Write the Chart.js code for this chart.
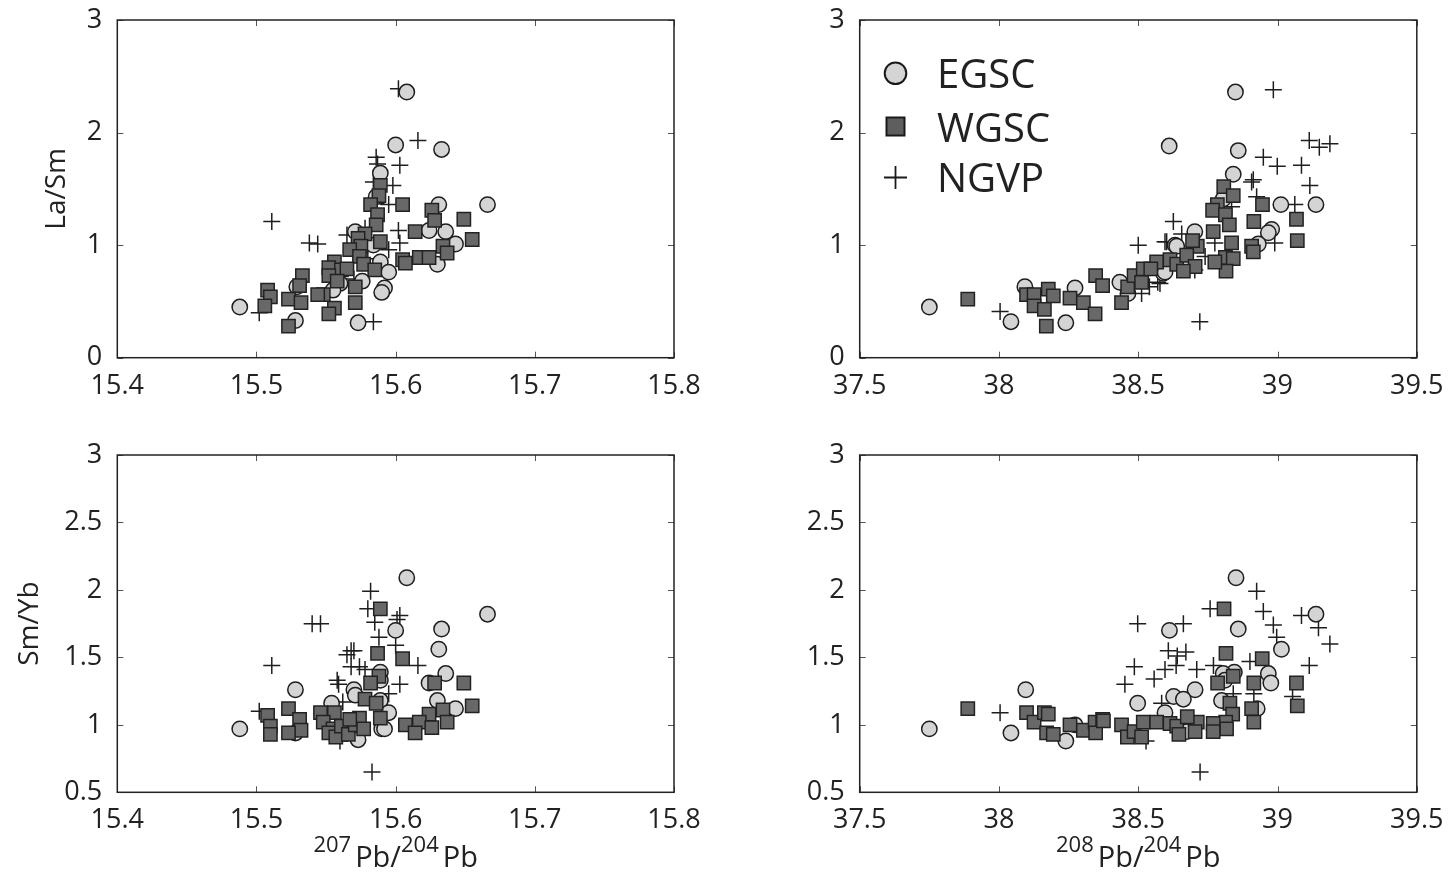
<!DOCTYPE html>
<html>
<head>
<meta charset="utf-8">
<script src="https://cdn.jsdelivr.net/npm/chart.js@4/dist/chart.umd.min.js"></script>
<style>
  body { margin: 0; background: #fff; }
  .panel { position: absolute; }
</style>
</head>
<body>
<div class="panel" style="left:0;top:0;width:700px;height:437px"><canvas id="tl"></canvas></div>
<div class="panel" style="left:725px;top:0;width:724px;height:437px"><canvas id="tr"></canvas></div>
<div class="panel" style="left:0;top:437px;width:700px;height:438px"><canvas id="bl"></canvas></div>
<div class="panel" style="left:725px;top:437px;width:724px;height:438px"><canvas id="br"></canvas></div>
<script>
// [207Pb/204Pb, La/Sm]
const egsc207LaSm = [[15.608,2.36],[15.600,1.89],[15.633,1.85],[15.589,1.64],[15.586,1.43],[15.631,1.36],[15.666,1.36],[15.624,1.13],[15.636,1.12],[15.643,1.01],[15.630,0.83],[15.571,1.12],[15.584,1.00],[15.589,0.85],[15.595,0.76],[15.592,0.62],[15.590,0.58],[15.576,0.68],[15.560,0.66],[15.555,0.60],[15.529,0.63],[15.528,0.33],[15.573,0.31],[15.488,0.45]];
const wgsc207LaSm = [[15.589,1.53],[15.588,1.44],[15.582,1.36],[15.605,1.36],[15.587,1.27],[15.586,1.18],[15.578,1.10],[15.573,1.06],[15.575,0.99],[15.589,1.03],[15.567,0.96],[15.574,0.90],[15.577,0.83],[15.585,0.78],[15.614,1.12],[15.626,1.31],[15.628,1.22],[15.649,1.23],[15.655,1.05],[15.634,0.99],[15.637,0.93],[15.605,0.87],[15.607,0.84],[15.617,0.89],[15.624,0.89],[15.556,0.85],[15.552,0.80],[15.561,0.78],[15.565,0.79],[15.552,0.73],[15.558,0.68],[15.571,0.63],[15.548,0.56],[15.544,0.56],[15.571,0.49],[15.556,0.44],[15.552,0.39],[15.533,0.73],[15.531,0.64],[15.523,0.52],[15.532,0.49],[15.508,0.60],[15.510,0.54],[15.506,0.46],[15.523,0.28]];
const ngvp207LaSm = [[15.602,2.39],[15.616,1.93],[15.586,1.78],[15.587,1.72],[15.603,1.71],[15.584,1.56],[15.598,1.53],[15.595,1.36],[15.511,1.21],[15.538,1.02],[15.544,1.01],[15.602,1.13],[15.603,1.02],[15.595,0.96],[15.565,1.09],[15.584,0.32],[15.502,0.40],[15.578,1.15],[15.586,1.37],[15.580,0.88],[15.560,0.80],[15.570,0.70]];

// [208Pb/204Pb, La/Sm]
const egsc208LaSm = [[37.750,0.45],[38.043,0.32],[38.093,0.63],[38.240,0.31],[38.273,0.62],[38.434,0.67],[38.611,1.88],[38.463,0.57],[38.590,0.75],[38.632,1.00],[38.849,2.36],[38.859,1.84],[38.841,1.63],[38.805,1.41],[39.012,1.36],[39.138,1.36],[38.979,1.14],[38.967,1.11],[38.931,1.01],[38.703,1.12],[38.638,0.99],[38.596,0.76]];
const wgsc208LaSm = [[37.888,0.52],[38.099,0.56],[38.126,0.56],[38.177,0.61],[38.195,0.55],[38.126,0.46],[38.163,0.43],[38.170,0.28],[38.255,0.53],[38.303,0.49],[38.345,0.39],[38.347,0.73],[38.372,0.64],[38.440,0.49],[38.462,0.63],[38.485,0.73],[38.518,0.79],[38.512,0.67],[38.566,0.85],[38.614,0.87],[38.638,0.83],[38.807,1.52],[38.841,1.44],[38.784,1.36],[38.767,1.31],[38.813,1.27],[38.827,1.18],[38.769,1.12],[38.946,1.36],[38.915,1.21],[39.068,1.23],[39.071,1.04],[38.907,0.99],[38.913,0.94],[38.835,1.02],[38.813,0.89],[38.841,0.88],[38.815,0.77],[38.775,0.85],[38.712,0.99],[38.695,1.04],[38.674,0.91],[38.704,0.81],[38.662,0.77],[38.545,0.79]];
const ngvp208LaSm = [[38.004,0.41],[38.500,1.00],[38.596,1.03],[38.626,1.21],[38.512,0.57],[38.540,0.63],[38.570,0.67],[38.985,2.38],[39.114,1.93],[39.150,1.87],[39.188,1.90],[38.949,1.78],[38.999,1.70],[39.086,1.71],[38.913,1.58],[38.907,1.56],[39.116,1.53],[38.925,1.43],[39.062,1.36],[38.990,1.02],[38.656,1.10],[38.602,1.03],[38.721,0.32],[38.775,1.02],[38.835,1.34],[38.578,0.66],[38.703,0.78],[38.799,0.85],[38.740,0.90]];

// [207Pb/204Pb, Sm/Yb]
const egsc207SmYb = [[15.608,2.09],[15.666,1.82],[15.633,1.71],[15.600,1.70],[15.631,1.56],[15.636,1.38],[15.624,1.31],[15.589,1.39],[15.589,1.33],[15.570,1.26],[15.571,1.22],[15.589,1.18],[15.630,1.18],[15.643,1.12],[15.595,1.09],[15.554,1.16],[15.528,1.26],[15.488,0.97],[15.528,0.94],[15.573,0.89],[15.590,0.97],[15.592,0.97]];
const wgsc207SmYb = [[15.589,1.86],[15.587,1.53],[15.605,1.49],[15.588,1.36],[15.582,1.31],[15.578,1.19],[15.586,1.16],[15.589,1.05],[15.628,1.31],[15.649,1.31],[15.655,1.14],[15.634,1.11],[15.637,1.02],[15.624,1.08],[15.617,1.02],[15.607,1.00],[15.614,0.94],[15.626,0.98],[15.508,1.07],[15.510,0.99],[15.510,0.93],[15.523,1.12],[15.531,1.04],[15.532,0.96],[15.523,0.94],[15.546,1.09],[15.556,1.09],[15.548,1.02],[15.555,0.97],[15.552,0.94],[15.557,0.91],[15.561,0.99],[15.566,0.93],[15.571,1.00],[15.574,1.05],[15.577,0.97],[15.567,1.04]];
const ngvp207SmYb = [[15.582,1.99],[15.580,1.86],[15.603,1.81],[15.601,1.78],[15.585,1.76],[15.540,1.75],[15.546,1.75],[15.588,1.65],[15.600,1.59],[15.568,1.55],[15.570,1.55],[15.565,1.52],[15.616,1.44],[15.511,1.44],[15.568,1.43],[15.574,1.43],[15.578,1.41],[15.558,1.33],[15.559,1.30],[15.603,1.30],[15.595,1.23],[15.562,1.17],[15.502,1.10],[15.583,0.65],[15.560,0.88]];

// [208Pb/204Pb, Sm/Yb]
const egsc208SmYb = [[37.750,0.97],[38.043,0.94],[38.096,1.26],[38.240,0.88],[38.273,1.00],[38.498,1.16],[38.612,1.70],[38.596,1.09],[38.627,1.21],[38.851,2.09],[39.138,1.82],[38.859,1.71],[39.014,1.56],[38.967,1.38],[38.976,1.31],[38.845,1.39],[38.805,1.38],[38.811,1.33],[38.704,1.26],[38.662,1.19],[38.927,1.12],[38.799,1.18],[38.674,0.95]];
const wgsc208SmYb = [[37.888,1.12],[38.099,1.09],[38.126,1.02],[38.163,1.09],[38.177,1.08],[38.171,0.94],[38.195,0.93],[38.255,1.00],[38.303,0.96],[38.345,1.02],[38.372,1.04],[38.347,0.94],[38.440,1.00],[38.461,0.91],[38.485,0.95],[38.518,1.02],[38.512,0.91],[38.566,1.02],[38.614,1.01],[38.638,0.99],[38.808,1.86],[38.815,1.53],[38.945,1.49],[38.841,1.36],[38.785,1.31],[38.915,1.31],[39.068,1.31],[39.071,1.14],[38.907,1.12],[38.915,1.02],[38.829,1.16],[38.839,1.08],[38.814,1.02],[38.817,0.97],[38.769,1.01],[38.769,0.95],[38.712,1.02],[38.704,0.95],[38.676,1.06],[38.646,0.93],[38.375,1.03]];
const ngvp208SmYb = [[38.004,1.09],[38.498,1.75],[38.486,1.43],[38.452,1.30],[38.557,1.34],[38.596,1.41],[38.608,1.55],[38.636,1.44],[38.640,1.51],[38.584,1.16],[38.528,0.88],[38.925,1.99],[38.758,1.86],[38.949,1.84],[39.086,1.81],[38.985,1.74],[38.662,1.75],[38.997,1.65],[39.147,1.72],[39.188,1.60],[38.671,1.54],[38.901,1.47],[39.114,1.44],[38.770,1.44],[38.710,1.41],[38.841,1.23],[38.915,1.23],[39.054,1.21],[38.722,0.65]];

const groupNames = ["EGSC", "WGSC", "NGVP"];

const FONT = "'Open Sans', 'DejaVu Sans', sans-serif";
const INK = "#222";

const pts = arr => arr.map(p => ({ x: p[0], y: p[1] }));
const fmt = v => String(Math.round(v * 10) / 10);

// box + inward ticks on all four sides, like matlab
const framePlugin = {
  id: "frame",
  afterDraw(chart) {
    const { ctx, chartArea: a, scales } = chart;
    ctx.save();
    ctx.strokeStyle = "#555";
    ctx.lineWidth = 1;
    const tl = 6;
    scales.x.ticks.forEach(t => {
      const px = Math.round(scales.x.getPixelForValue(t.value)) + 0.5;
      ctx.beginPath();
      ctx.moveTo(px, a.bottom); ctx.lineTo(px, a.bottom - tl);
      ctx.moveTo(px, a.top); ctx.lineTo(px, a.top + tl);
      ctx.stroke();
    });
    scales.y.ticks.forEach(t => {
      const py = Math.round(scales.y.getPixelForValue(t.value)) + 0.5;
      ctx.beginPath();
      ctx.moveTo(a.left, py); ctx.lineTo(a.left + tl, py);
      ctx.moveTo(a.right, py); ctx.lineTo(a.right - tl, py);
      ctx.stroke();
    });
    ctx.strokeStyle = INK;
    ctx.lineWidth = 1.5;
    ctx.strokeRect(a.left, a.top, a.right - a.left, a.bottom - a.top);
    ctx.restore();
  }
};

// x title with superscript mass numbers
const supTitlePlugin = {
  id: "supTitle",
  afterDraw(chart, args, opts) {
    if (!opts.parts) return;
    const { ctx, chartArea: a } = chart;
    const big = "29px " + FONT, small = "22px " + FONT;
    ctx.save();
    ctx.fillStyle = INK;
    ctx.textBaseline = "alphabetic";
    let w = 0;
    opts.parts.forEach(p => {
      ctx.font = p.sup ? small : big;
      w += ctx.measureText(p.text).width + (p.sup ? 4 : 0);
    });
    let x = (a.left + a.right) / 2 - w / 2;
    opts.parts.forEach(p => {
      ctx.font = p.sup ? small : big;
      ctx.textAlign = "left";
      ctx.fillText(p.text, x, opts.baseline - (p.sup ? 15 : 0));
      x += ctx.measureText(p.text).width + (p.sup ? 4 : 0);
    });
    ctx.restore();
  }
};

// legend drawn inside the plot box
const innerLegendPlugin = {
  id: "innerLegend",
  afterDraw(chart, args, opts) {
    if (!opts.show) return;
    const { ctx } = chart;
    const sx = 170.5;
    const rows = [73.3, 126.5, 177.5];
    const bases = [88.3, 141.7, 191.7];
    ctx.save();
    ctx.lineWidth = 2;
    ctx.strokeStyle = "#1a1a1a";
    // circle
    ctx.beginPath();
    ctx.arc(sx, rows[0], 10.8, 0, Math.PI * 2);
    ctx.fillStyle = "#d4d4d4";
    ctx.fill(); ctx.stroke();
    // square
    ctx.fillStyle = "#5e5e5e";
    ctx.fillRect(sx - 9, rows[1] - 9, 18, 18);
    ctx.strokeRect(sx - 9, rows[1] - 9, 18, 18);
    // plus
    ctx.lineWidth = 1.8;
    ctx.beginPath();
    ctx.moveTo(sx - 11.5, rows[2]); ctx.lineTo(sx + 11.5, rows[2]);
    ctx.moveTo(sx, rows[2] - 11.5); ctx.lineTo(sx, rows[2] + 11.5);
    ctx.stroke();
    ctx.fillStyle = INK;
    ctx.font = "40px " + FONT;
    ctx.textBaseline = "alphabetic";
    groupNames.forEach((n, i) => ctx.fillText(n, 212, bases[i]));
    ctx.restore();
  }
};

function panel(id, cfg) {
  return new Chart(id, {
    type: "scatter",
    data: {
      datasets: [
        {
          label: groupNames[0], data: pts(cfg.egsc), order: 1,
          pointStyle: "circle", pointRadius: 7.7,
          backgroundColor: "#d4d4d4", borderColor: "#1e1e1e", borderWidth: 1.5
        },
        {
          label: groupNames[1], data: pts(cfg.wgsc), order: 0,
          pointStyle: "rect", pointRadius: 9.4,
          backgroundColor: "#686868", borderColor: "#222", borderWidth: 1.5
        },
        {
          label: groupNames[2], data: pts(cfg.ngvp), order: 2,
          pointStyle: "cross", pointRadius: 8.5,
          borderColor: "#1e1e1e", borderWidth: 1.5
        }
      ]
    },
    options: {
      animation: false,
      responsive: true,
      maintainAspectRatio: false,
      events: [],
      layout: { padding: { top: cfg.padTop, right: cfg.padRight, left: 0, bottom: 0 } },
      plugins: {
        legend: { display: false },
        tooltip: { enabled: false },
        supTitle: { parts: cfg.xTitle, baseline: cfg.xTitleBase },
        innerLegend: { show: !!cfg.legend }
      },
      scales: {
        x: {
          type: "linear", min: cfg.xMin, max: cfg.xMax,
          grid: { display: false }, border: { display: false },
          ticks: {
            stepSize: cfg.xStep, autoSkip: false, maxRotation: 0, padding: 4,
            color: INK, font: { family: FONT, size: 27 }, callback: fmt
          },
          afterFit: s => {
            s.height = cfg.xHeight;
            s.paddingLeft = 0; s.paddingRight = 0;
          }
        },
        y: {
          min: cfg.yMin, max: cfg.yMax,
          grid: { display: false }, border: { display: false },
          ticks: {
            stepSize: cfg.yStep, autoSkip: false, padding: 7,
            color: INK, font: { family: FONT, size: 27 }, callback: fmt
          },
          title: {
            display: !!cfg.yTitle, text: cfg.yTitle || "", color: INK,
            font: { family: FONT, size: 28 }, padding: { top: cfg.yTitlePad || 0, bottom: 0 }
          },
          afterFit: s => {
            s.width = cfg.yWidth;
            s.paddingTop = 0; s.paddingBottom = 0;
          }
        }
      }
    },
    plugins: [framePlugin, supTitlePlugin, innerLegendPlugin]
  });
}

panel("tl", {
  egsc: egsc207LaSm, wgsc: wgsc207LaSm, ngvp: ngvp207LaSm,
  xMin: 15.4, xMax: 15.8, xStep: 0.1, yMin: 0, yMax: 3, yStep: 1,
  yTitle: "La/Sm", yTitlePad: 40, yWidth: 117.3, padTop: 20, padRight: 26, xHeight: 79.3
});
panel("tr", {
  egsc: egsc208LaSm, wgsc: wgsc208LaSm, ngvp: ngvp208LaSm,
  xMin: 37.5, xMax: 39.5, xStep: 0.5, yMin: 0, yMax: 3, yStep: 1,
  yWidth: 134.7, padTop: 20, padRight: 32.2, xHeight: 79.3, legend: true
});
panel("bl", {
  egsc: egsc207SmYb, wgsc: wgsc207SmYb, ngvp: ngvp207SmYb,
  xMin: 15.4, xMax: 15.8, xStep: 0.1, yMin: 0.5, yMax: 3, yStep: 0.5,
  yTitle: "Sm/Yb", yTitlePad: 13, yWidth: 117.3, padTop: 18, padRight: 26, xHeight: 82.7,
  xTitle: [{ text: "207", sup: true }, { text: "Pb/" }, { text: "204", sup: true }, { text: "Pb" }],
  xTitleBase: 430
});
panel("br", {
  egsc: egsc208SmYb, wgsc: wgsc208SmYb, ngvp: ngvp208SmYb,
  xMin: 37.5, xMax: 39.5, xStep: 0.5, yMin: 0.5, yMax: 3, yStep: 0.5,
  yWidth: 134.7, padTop: 18, padRight: 32.2, xHeight: 82.7,
  xTitle: [{ text: "208", sup: true }, { text: "Pb/" }, { text: "204", sup: true }, { text: "Pb" }],
  xTitleBase: 430
});
</script>
</body>
</html>
